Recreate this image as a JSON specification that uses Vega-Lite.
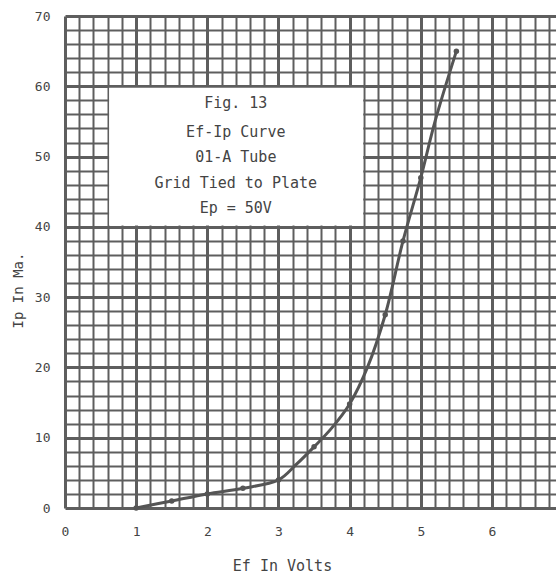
{
  "$schema": "https://vega.github.io/schema/vega-lite/v6.json",
  "width": 491,
  "height": 492,
  "autosize": {"type": "none"},
  "padding": {"left": 65, "top": 16, "right": 0, "bottom": 67},
  "background": "white",
  "config": {"view": {"stroke": null}, "font": "DejaVu Sans Mono"},
  "datasets": {
    "curve": [
      {"ef": 1.0, "ip": 0},
      {"ef": 1.5, "ip": 1.0},
      {"ef": 2.0, "ip": 2.0},
      {"ef": 2.5, "ip": 2.8},
      {"ef": 3.0, "ip": 4.0},
      {"ef": 3.25, "ip": 6.2},
      {"ef": 3.5, "ip": 8.7},
      {"ef": 3.75, "ip": 11.4},
      {"ef": 4.0, "ip": 14.8},
      {"ef": 4.25, "ip": 20.0},
      {"ef": 4.5, "ip": 27.5},
      {"ef": 4.75, "ip": 38.0},
      {"ef": 5.0, "ip": 47.0},
      {"ef": 5.2, "ip": 55.0},
      {"ef": 5.5, "ip": 65.0}
    ],
    "dots": [
      {"ef": 1.0, "ip": 0},
      {"ef": 1.5, "ip": 1.0},
      {"ef": 2.0, "ip": 2.0},
      {"ef": 2.5, "ip": 2.8},
      {"ef": 3.0, "ip": 4.0},
      {"ef": 3.5, "ip": 8.7},
      {"ef": 4.0, "ip": 14.8},
      {"ef": 4.5, "ip": 27.5},
      {"ef": 4.75, "ip": 38.0},
      {"ef": 5.0, "ip": 47.0},
      {"ef": 5.5, "ip": 65.0}
    ],
    "box": [{"ef": 0.62, "ef2": 4.19, "ip": 40.2, "ip2": 59.8}],
    "notes": [
      {"ef": 2.4, "ip": 57.6, "label": "Fig. 13"},
      {"ef": 2.4, "ip": 53.5, "label": "Ef-Ip Curve"},
      {"ef": 2.4, "ip": 49.9, "label": "01-A Tube"},
      {"ef": 2.4, "ip": 46.3, "label": "Grid Tied to Plate"},
      {"ef": 2.4, "ip": 42.7, "label": "Ep = 50V"}
    ]
  },
  "encoding": {
    "x": {
      "field": "ef",
      "type": "quantitative",
      "scale": {"domain": [0, 6.9], "nice": false, "zero": false},
      "axis": {
        "values": [0, 0.2, 0.4, 0.6, 0.8, 1, 1.2, 1.4, 1.6, 1.8, 2, 2.2, 2.4, 2.6, 2.8, 3, 3.2, 3.4, 3.6, 3.8, 4, 4.2, 4.4, 4.6, 4.8, 5, 5.2, 5.4, 5.6, 5.8, 6, 6.2, 6.4, 6.6, 6.8],
        "grid": true,
        "gridColor": "#5e5e5e",
        "gridOpacity": 1,
        "gridWidth": {"condition": {"test": "datum.value % 1 === 0", "value": 3}, "value": 2},
        "ticks": false,
        "domain": false,
        "labelExpr": "datum.value % 1 === 0 ? '' + datum.value : ''",
        "labelOverlap": false,
        "labelFlush": false,
        "labelPadding": 17,
        "labelFontSize": 13,
        "labelColor": "#444444",
        "labelFont": "DejaVu Sans Mono",
        "title": "Ef In Volts",
        "titleFont": "DejaVu Sans Mono",
        "titleFontSize": 15,
        "titleFontWeight": "normal",
        "titleColor": "#444444",
        "titleX": 217,
        "titleY": 57,
        "titleBaseline": "middle"
      }
    },
    "y": {
      "field": "ip",
      "type": "quantitative",
      "scale": {"domain": [0, 70], "nice": false, "zero": false},
      "axis": {
        "values": [0, 2, 4, 6, 8, 10, 12, 14, 16, 18, 20, 22, 24, 26, 28, 30, 32, 34, 36, 38, 40, 42, 44, 46, 48, 50, 52, 54, 56, 58, 60, 62, 64, 66, 68, 70],
        "grid": true,
        "gridColor": "#5e5e5e",
        "gridOpacity": 1,
        "gridWidth": {"condition": {"test": "datum.value % 10 === 0", "value": 3}, "value": 2},
        "ticks": false,
        "domain": false,
        "labelExpr": "datum.value % 10 === 0 ? '' + datum.value : ''",
        "labelOverlap": false,
        "labelFlush": false,
        "labelPadding": 15,
        "labelFontSize": 13,
        "labelColor": "#444444",
        "labelFont": "DejaVu Sans Mono",
        "title": "Ip In Ma.",
        "titleFont": "DejaVu Sans Mono",
        "titleFontSize": 14,
        "titleFontWeight": "normal",
        "titleColor": "#444444",
        "titleX": -47,
        "titleY": 274,
        "titleBaseline": "middle"
      }
    }
  },
  "layer": [
    {
      "data": {"name": "box"},
      "mark": {"type": "rect", "fill": "white"},
      "encoding": {"x2": {"field": "ef2"}, "y2": {"field": "ip2"}}
    },
    {
      "data": {"name": "notes"},
      "mark": {"type": "text", "font": "DejaVu Sans Mono", "fontSize": 15, "color": "#444444", "align": "center", "baseline": "middle"},
      "encoding": {"text": {"field": "label"}}
    },
    {
      "data": {"name": "curve"},
      "mark": {"type": "line", "color": "#555555", "strokeWidth": 3, "interpolate": "catmull-rom"}
    },
    {
      "data": {"name": "dots"},
      "mark": {"type": "point", "filled": true, "color": "#555555", "size": 30, "opacity": 1}
    }
  ]
}
